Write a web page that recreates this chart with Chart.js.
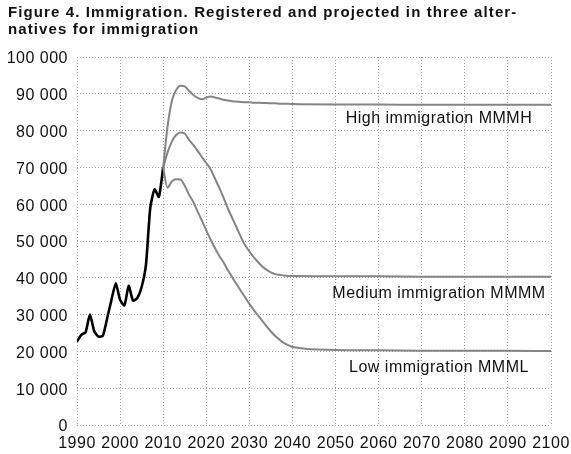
<!DOCTYPE html>
<html>
<head>
<meta charset="utf-8">
<script src="https://cdn.jsdelivr.net/npm/chart.js@4.4.1/dist/chart.umd.min.js"></script>
<style>
    html, body { margin: 0; padding: 0; background: #fff; }
    #wrap { width: 571px; height: 454px; }
</style>
</head>
<body>
<div id="wrap"><canvas id="immChart"></canvas></div>
<script>
// Registered immigration 1990-2010
const histYears = [1990, 1991, 1992, 1993, 1994, 1995, 1996, 1997, 1998, 1999, 2000,
    2001, 2002, 2003, 2004, 2005, 2006, 2007, 2008, 2009, 2010];
const histValues = [22700, 24500, 25200, 30000, 25500, 24000, 24300, 29000, 34000, 38500, 34000,
    32500, 37800, 33800, 34500, 37500, 43500, 59000, 64000, 62000, 70000];

// Projections (annual to 2040, then each decade)
const projYears = [2010, 2011, 2012, 2013, 2014, 2015, 2016, 2017, 2018, 2019, 2020,
    2021, 2022, 2023, 2024, 2025, 2026, 2027, 2028, 2029, 2030,
    2031, 2032, 2033, 2034, 2035, 2036, 2037, 2038, 2039, 2040,
    2050, 2060, 2070, 2080, 2090, 2100];
const highValues = [70000, 81000, 88000, 91000, 92200, 92000, 90800, 89700, 88900, 88500, 89000,
    89300, 89000, 88700, 88400, 88200, 88000, 87900, 87800, 87700, 87700,
    87600, 87600, 87500, 87500, 87400, 87400, 87300, 87300, 87300, 87200,
    87100, 87100, 87000, 87000, 87000, 87000];
const mediumValues = [70000, 74000, 77000, 78800, 79500, 79200, 77500, 76100, 74500, 72800, 71200,
    69500, 67000, 64500, 61800, 58900, 56300, 53800, 51200, 48900, 47200,
    45600, 44300, 43100, 42200, 41500, 41000, 40800, 40600, 40500, 40500,
    40400, 40400, 40300, 40300, 40300, 40300];
const lowValues = [70000, 64500, 66200, 66800, 66700, 65000, 62600, 60600, 58000, 55500, 52900,
    50400, 48100, 46000, 44200, 42100, 40200, 38300, 36500, 34700, 32900,
    31300, 29800, 28300, 26800, 25400, 24200, 23200, 22300, 21700, 21200,
    20400, 20300, 20200, 20200, 20200, 20100];

const titleLines = ['Figure 4. Immigration. Registered and projected in three alter-',
    'natives for immigration'];
const seriesLabels = ['High immigration MMMH', 'Medium immigration MMMM', 'Low immigration MMML'];
const labelYears = [2074, 2074, 2074];
const labelValues = [83300, 35800, 15500];

const FONT = '"Liberation Sans", Arial, sans-serif';

function toPoints(xs, ys) {
    return xs.map((x, i) => ({ x: x, y: ys[i] }));
}

function formatThousands(v) {
    return String(v).replace(/\B(?=(\d{3})+(?!\d))/g, ' ');
}

// the reference font runs a little wider than Liberation Sans
const spacingPlugin = {
    id: 'spacing',
    beforeDraw(chart) {
        chart.ctx.letterSpacing = '0.5px';
    }
};

// title, drawn by hand so it can sit flush left with its own spacing
const titlePlugin = {
    id: 'figTitle',
    afterDraw(chart) {
        const ctx = chart.ctx;
        ctx.save();
        ctx.letterSpacing = '1.1px';
        ctx.font = 'bold 15px ' + FONT;
        ctx.fillStyle = '#111';
        ctx.textAlign = 'left';
        ctx.textBaseline = 'middle';
        titleLines.forEach((line, i) => ctx.fillText(line, 8, 13 + i * 17));
        ctx.restore();
    }
};

// draws the series names inside the plot
const seriesLabelPlugin = {
    id: 'seriesLabels',
    afterDatasetsDraw(chart) {
        const ctx = chart.ctx;
        const xs = chart.scales.x;
        const ys = chart.scales.y;
        ctx.save();
        ctx.letterSpacing = '0.5px';
        ctx.font = '16px ' + FONT;
        ctx.fillStyle = '#111';
        ctx.textAlign = 'center';
        ctx.textBaseline = 'middle';
        seriesLabels.forEach((txt, i) => {
            ctx.fillText(txt, xs.getPixelForValue(labelYears[i]), ys.getPixelForValue(labelValues[i]));
        });
        ctx.restore();
    }
};

const projStyle = {
    borderColor: '#858585',
    borderWidth: 2,
    pointRadius: 0,
    cubicInterpolationMode: 'monotone',
    fill: false
};

new Chart(document.getElementById('immChart'), {
    type: 'line',
    data: {
        datasets: [
            Object.assign({ label: seriesLabels[0], data: toPoints(projYears, highValues) }, projStyle),
            Object.assign({ label: seriesLabels[1], data: toPoints(projYears, mediumValues) }, projStyle),
            Object.assign({ label: seriesLabels[2], data: toPoints(projYears, lowValues) }, projStyle),
            {
                label: 'Registered',
                data: toPoints(histYears, histValues),
                borderColor: '#000',
                borderWidth: 2.6,
                pointRadius: 0,
                tension: 0.2,
                fill: false
            }
        ]
    },
    options: {
        responsive: true,
        maintainAspectRatio: false,
        animation: false,
        layout: { padding: { left: 8, right: 20, top: 57, bottom: 0 } },
        plugins: {
            legend: { display: false },
            tooltip: { enabled: false },
            title: { display: false }
        },
        scales: {
            x: {
                type: 'linear',
                min: 1990,
                max: 2100,
                ticks: {
                    stepSize: 10,
                    color: '#111',
                    padding: 9,
                    maxRotation: 0,
                    font: { family: FONT, size: 16 },
                    callback: v => String(v)
                },
                grid: { color: '#a0a0a0', drawTicks: false },
                border: { display: false, dash: [1, 2] },
                afterFit: s => {
                    s.height = 29;
                    s.paddingLeft = 0;
                    s.paddingRight = 0;
                }
            },
            y: {
                min: 0,
                max: 100000,
                ticks: {
                    stepSize: 10000,
                    color: '#111',
                    padding: 9,
                    labelOffset: 2,
                    font: { family: FONT, size: 16 },
                    callback: v => formatThousands(v)
                },
                grid: { color: '#a0a0a0', drawTicks: false },
                border: { display: false, dash: [1, 2] },
                afterFit: s => { s.width = 69; }
            }
        }
    },
    plugins: [spacingPlugin, titlePlugin, seriesLabelPlugin]
});
</script>
</body>
</html>
